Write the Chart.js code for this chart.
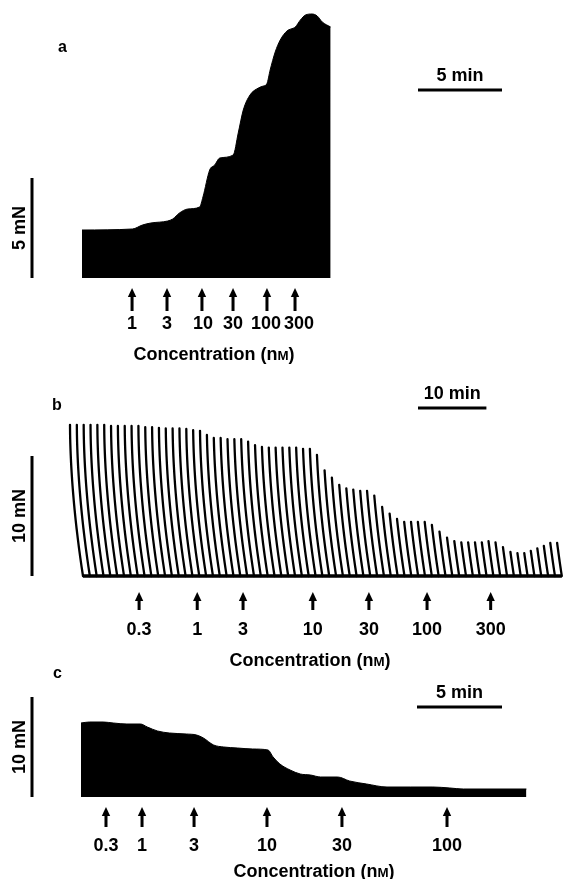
<!DOCTYPE html>
<html>
<head>
<meta charset="utf-8">
<script src="https://cdn.jsdelivr.net/npm/chart.js@4.4.0/dist/chart.umd.min.js"></script>
<style>
  html, body { margin: 0; padding: 0; background: #fff; }
  #fig { position: relative; width: 563px; height: 879px; overflow: hidden; }
  #fig canvas { position: absolute; left: 0; }
</style>
</head>
<body>
<div id="fig">
  <canvas id="panelA" width="563" height="380" style="top:0px"></canvas>
  <canvas id="panelB" width="563" height="320" style="top:365px"></canvas>
  <canvas id="panelC" width="563" height="219" style="top:660px"></canvas>
</div>
<script>
// ---- a: contracture trace (time in min, tension in mN)
const aTimeMin = [0, 3.0, 3.6, 4.1, 5.1, 5.4, 5.8, 6.3, 7.0, 7.2, 7.6, 7.9, 8.2, 9.0, 9.3, 9.6,
  10.0, 10.5, 10.8, 11.0, 11.2, 11.5, 11.8, 12.2, 12.6, 12.7, 13.0, 13.3, 13.7, 14.0, 14.3, 14.8]
const aForceMN = [2.4, 2.45, 2.65, 2.75, 2.85, 2.95, 3.25, 3.45, 3.55, 4.05, 5.4, 5.65, 6.0, 6.15, 7.25, 8.4,
  9.15, 9.5, 9.6, 9.7, 10.4, 11.3, 11.9, 12.35, 12.5, 12.55, 12.9, 13.15, 13.2, 13.1, 12.8, 12.55]
const aDoseMin = [2.98, 5.06, 7.14, 8.99, 11.01, 12.68]
const aDoseNM = ['1', '3', '10', '30', '100', '300']

// ---- b: twitch amplitudes (mN), one twitch per minute
const bTwitchMN = [
  12.6, 12.6, 12.6, 12.6, 12.6, 12.6, 12.5, 12.5, 12.5, 12.5,
  12.5, 12.4, 12.4, 12.35, 12.3, 12.3, 12.3, 12.25, 12.15, 12.1,
  11.75, 11.5, 11.5, 11.4, 11.4, 11.4, 11.2, 10.9, 10.75, 10.7,
  10.7, 10.7, 10.7, 10.7, 10.6, 10.6, 10.1, 8.8, 8.2, 7.6,
  7.3, 7.2, 7.1, 7.1, 6.7, 5.75, 5.2, 4.75, 4.5, 4.5,
  4.5, 4.5, 4.25, 3.7, 3.2, 2.9, 2.8, 2.8, 2.8, 2.8,
  2.9, 2.8, 2.4, 2.0, 1.9, 1.9, 2.1, 2.3, 2.5, 2.75,
  2.75]
const bDoseMin = [8.2, 16.7, 23.4, 33.6, 41.8, 50.3, 59.6]
const bDoseNM = ['0.3', '1', '3', '10', '30', '100', '300']

// ---- c: tension trace
const cTimeMin = [0, 0.5, 1.3, 1.9, 2.7, 3.5, 3.9, 4.5, 5.2, 6.2, 6.8, 7.2, 7.8, 8.4, 9.2,
  10.1, 11.0, 11.3, 11.7, 12.3, 12.9, 13.5, 14.1, 15.1, 15.8, 16.8, 18.0, 19.4, 20.7, 21.7, 22.5, 26.2]
const cForceMN = [7.4, 7.5, 7.5, 7.4, 7.3, 7.3, 7.0, 6.6, 6.4, 6.3, 6.2, 5.9, 5.2, 5.0, 4.9,
  4.8, 4.7, 4.0, 3.3, 2.7, 2.3, 2.2, 2.0, 2.0, 1.6, 1.3, 1.0, 1.0, 1.0, 0.9, 0.8, 0.8]
const cDoseMin = [1.47, 3.59, 6.65, 10.94, 15.35, 21.53]
const cDoseNM = ['0.3', '1', '3', '10', '30', '100']

const INK = '#000'
const FONT = '"Liberation Sans", Arial, Helvetica, sans-serif'
const TXT = 18

// curvilinear pen: the tip swings left as it rises
const TWITCH_EVERY_MIN = 1
const PEN_SWING_MIN = 1.9
const PEN_SWING_MN = 12.6

function textAt(ctx, str, x, cy, size, align) {
  ctx.font = 'bold ' + size + 'px ' + FONT
  ctx.textAlign = align || 'center'
  ctx.textBaseline = 'alphabetic'
  ctx.fillText(str, x, cy + size * 0.36)
}

// "Concentration (nM)" with a small-capital M
function concTitle(ctx, cx, cy) {
  const parts = [['Concentration (n', TXT], ['M', TXT * 0.74], [')', TXT]]
  let w = 0
  parts.forEach(p => { ctx.font = 'bold ' + p[1] + 'px ' + FONT; w += ctx.measureText(p[0]).width })
  let x = cx - w / 2
  ctx.textAlign = 'left'
  ctx.textBaseline = 'alphabetic'
  parts.forEach(p => {
    ctx.font = 'bold ' + p[1] + 'px ' + FONT
    ctx.fillText(p[0], x, cy + TXT * 0.36)
    x += ctx.measureText(p[0]).width
  })
}

const decor = {
  id: 'decor',
  afterDraw(chart, args, o) {
    const { ctx } = chart
    const x = chart.scales.x, y = chart.scales.y
    const base = y.getPixelForValue(0)
    const py = v => v - o.top
    ctx.save()
    ctx.fillStyle = INK
    ctx.strokeStyle = INK
    ctx.lineCap = 'butt'

    // panel letter
    ctx.font = 'bold 16px ' + FONT
    ctx.textAlign = 'left'
    ctx.textBaseline = 'alphabetic'
    ctx.fillText(o.letter, o.letterX, py(o.letterY))

    // time calibration
    const tb = o.timeBar
    const len = x.getPixelForValue(tb.min) - x.getPixelForValue(0)
    ctx.lineWidth = 3
    ctx.beginPath()
    ctx.moveTo(tb.x, py(tb.y))
    ctx.lineTo(tb.x + len, py(tb.y))
    ctx.stroke()
    textAt(ctx, tb.text, tb.x + len / 2, py(tb.y) - 15, TXT)

    // force calibration
    const fb = o.forceBar
    const top = y.getPixelForValue(fb.mN)
    ctx.beginPath()
    ctx.moveTo(fb.x, base)
    ctx.lineTo(fb.x, top)
    ctx.stroke()
    ctx.save()
    ctx.translate(fb.labelX, (base + top) / 2)
    ctx.rotate(-Math.PI / 2)
    textAt(ctx, fb.text, 0, 0, TXT)
    ctx.restore()

    // dose arrows and labels
    const ar = o.arrows
    ar.at.forEach((t, i) => {
      const ax = x.getPixelForValue(t)
      const y0 = base + ar.top, y1 = base + ar.bottom
      ctx.beginPath()
      ctx.moveTo(ax, y0)
      ctx.lineTo(ax - 4.2, y0 + 9)
      ctx.lineTo(ax + 4.2, y0 + 9)
      ctx.closePath()
      ctx.fill()
      ctx.fillRect(ax - 1.5, y0 + 7, 3, y1 - y0 - 7)
      const nudge = ar.nudge ? ar.nudge[i] : 0
      textAt(ctx, ar.labels[i], ax + nudge, base + ar.label, TXT)
    })
    concTitle(ctx, o.titleX, base + ar.title)
    ctx.restore()
  }
}

function panel(id, lay, datasets, deco) {
  const canvas = document.getElementById(id)
  const h = canvas.height, w = canvas.width
  const baseLocal = lay.baseY - lay.top
  return new Chart(canvas, {
    type: 'line',
    data: { datasets: datasets },
    options: {
      responsive: false,
      animation: false,
      events: [],
      layout: { padding: 0 },
      elements: { point: { radius: 0 } },
      plugins: {
        legend: { display: false },
        tooltip: { enabled: false },
        decor: Object.assign({ top: lay.top }, deco)
      },
      scales: {
        x: { type: 'linear', display: false,
          min: -lay.originX / lay.pxPerMin, max: (w - lay.originX) / lay.pxPerMin },
        y: { type: 'linear', display: false,
          min: -(h - baseLocal) / lay.pxPerMN, max: baseLocal / lay.pxPerMN }
      }
    },
    plugins: [decor]
  })
}

function areaTrace(times, forces) {
  return {
    data: times.map((t, i) => ({ x: t, y: forces[i] })),
    borderColor: INK,
    backgroundColor: INK,
    borderWidth: 1,
    fill: 'origin',
    cubicInterpolationMode: 'monotone'
  }
}

// ---- panel a
panel('panelA',
  { top: 0, baseY: 278, originX: 82, pxPerMin: 16.8, pxPerMN: 20 },
  [areaTrace(aTimeMin, aForceMN)],
  { letter: 'a', letterX: 58, letterY: 52,
    timeBar: { min: 5, x: 418, y: 90, text: '5 min' },
    forceBar: { mN: 5, x: 32, labelX: 19, text: '5 mN' },
    arrows: { at: aDoseMin, labels: aDoseNM, nudge: [0, 0, 1, 0, -1, 4],
      top: 10, bottom: 33, label: 45, title: 76 },
    titleX: 214 })

// ---- panel b: each twitch drawn as a pen arc from the baseline
const twitchPts = []
bTwitchMN.forEach((amp, i) => {
  const t = i * TWITCH_EVERY_MIN
  for (let k = 0; k <= 16; k++) {
    const f = amp * k / 16
    const u = 1 - f / PEN_SWING_MN
    twitchPts.push({ x: t - PEN_SWING_MIN * (1 - Math.pow(u, 1.8)), y: f })
  }
  twitchPts.push({ x: t, y: NaN })
})
const lastTwitch = (bTwitchMN.length - 1) * TWITCH_EVERY_MIN

panel('panelB',
  { top: 365, baseY: 576, originX: 83, pxPerMin: 6.84, pxPerMN: 12 },
  [
    { data: twitchPts, borderColor: INK, borderWidth: 2.3, fill: false, spanGaps: false,
      tension: 0.2, borderCapStyle: 'round' },
    { data: [{ x: 0, y: 0 }, { x: lastTwitch, y: 0 }], borderColor: INK, borderWidth: 3.5, fill: false }
  ],
  { letter: 'b', letterX: 52, letterY: 410,
    timeBar: { min: 10, x: 418, y: 408, text: '10 min' },
    forceBar: { mN: 10, x: 32, labelX: 19, text: '10 mN' },
    arrows: { at: bDoseMin, labels: bDoseNM, top: 16, bottom: 34, label: 53, title: 84 },
    titleX: 310 })

// ---- panel c
panel('panelC',
  { top: 660, baseY: 797, originX: 81, pxPerMin: 17, pxPerMN: 10 },
  [areaTrace(cTimeMin, cForceMN)],
  { letter: 'c', letterX: 53, letterY: 678,
    timeBar: { min: 5, x: 417, y: 707, text: '5 min' },
    forceBar: { mN: 10, x: 32, labelX: 19, text: '10 mN' },
    arrows: { at: cDoseMin, labels: cDoseNM, top: 10, bottom: 30, label: 48, title: 74 },
    titleX: 314 })
</script>
</body>
</html>
